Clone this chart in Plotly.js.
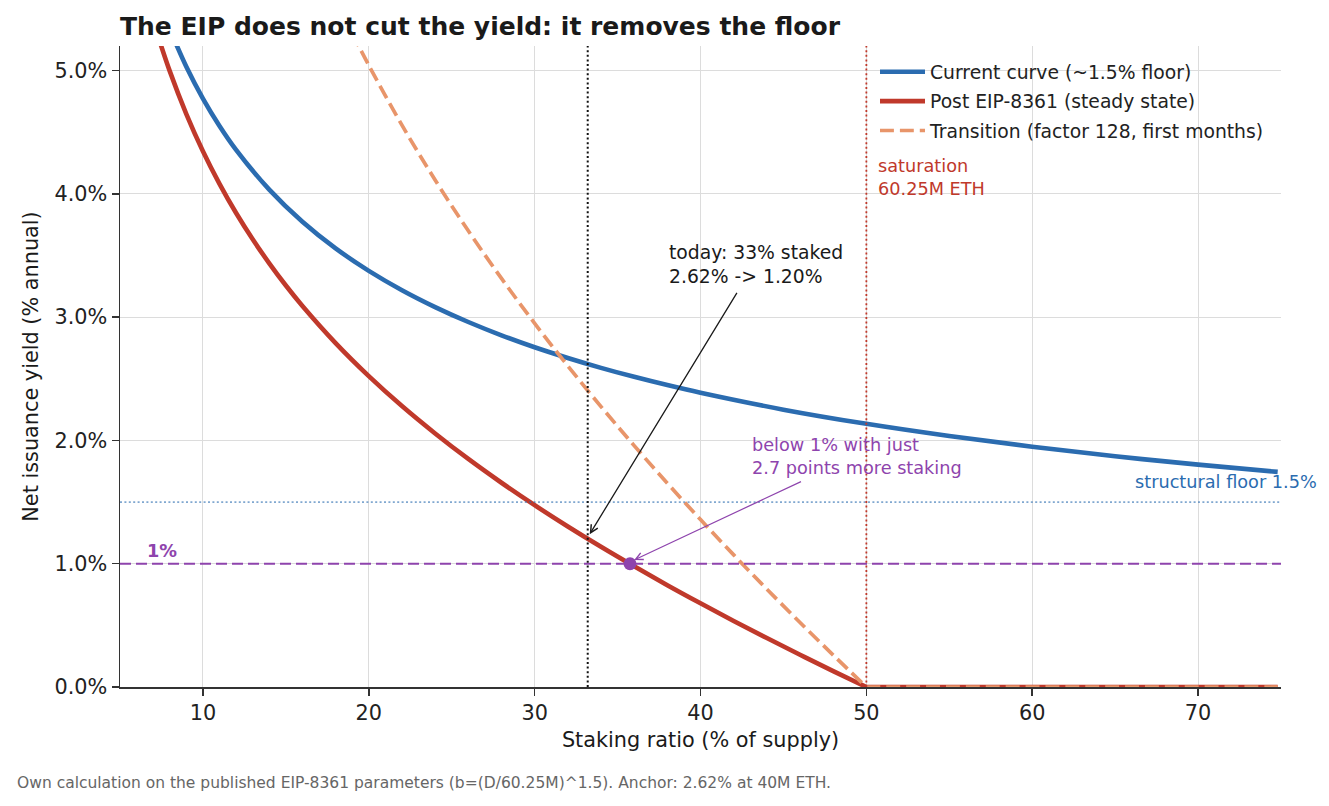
<!DOCTYPE html>
<html>
<head>
<meta charset="utf-8">
<script src="https://cdn.plot.ly/plotly-3.0.1.min.js"></script>
<style>
  html, body { margin: 0; padding: 0; background: #ffffff; }
  #chart { width: 1329px; height: 806px; }
</style>
</head>
<body>
<div id="chart"></div>
<script>
// ---- data ----
const xCurrent = [8, 9, 10, 11, 12, 14, 16, 18, 20, 22, 24, 26, 28, 30, 32, 34, 36, 38, 40, 45, 50, 55, 60, 65, 70, 74.8];
const yCurrent = [5.337, 5.032, 4.774, 4.552, 4.358, 4.035, 3.774, 3.558, 3.376, 3.219, 3.082, 2.961, 2.853, 2.756, 2.669, 2.589, 2.516, 2.449, 2.387, 2.250, 2.135, 2.036, 1.949, 1.872, 1.804, 1.745];

// post EIP-8361: curved part up to saturation, then flat at zero
const xPost = [7.3, 8, 9, 10, 11, 12, 13, 14, 15, 16, 18, 20, 22, 24, 26, 28, 30, 32, 34, 36, 38, 40, 42, 44, 46, 48, 50];
const yPost = [5.276, 4.996, 4.648, 4.347, 4.082, 3.845, 3.632, 3.437, 3.257, 3.091, 2.790, 2.522, 2.279, 2.057, 1.850, 1.657, 1.475, 1.302, 1.137, 0.979, 0.826, 0.679, 0.536, 0.397, 0.262, 0.129, 0];

const xTransition = [19, 20, 22, 24, 26, 28, 30, 32, 34, 36, 38, 40, 42, 44, 46, 48, 50];
const yTransition = [5.304, 5.043, 4.558, 4.113, 3.701, 3.315, 2.950, 2.605, 2.275, 1.958, 1.653, 1.358, 1.072, 0.794, 0.523, 0.259, 0];

// beyond saturation both new curves sit at zero
const xBeyond = [50, 74.8];
const yBeyond = [0, 0];

const seriesNames = ['Current curve (~1.5% floor)', 'Post EIP-8361 (steady state)', 'Transition (factor 128, first months)'];

const todayX = 33.2;          // today's staking ratio
const todayYield = [2.62, 1.20];
const saturationX = 50;       // 60.25M ETH
const floorY = 1.5;
const onePctY = 1.0;
const crossX = 35.75;         // where post-EIP curve crosses 1%

const xTicks = [10, 20, 30, 40, 50, 60, 70];
const yTicks = [0, 1, 2, 3, 4, 5];
const yTickLabels = ['0.0%', '1.0%', '2.0%', '3.0%', '4.0%', '5.0%'];

// ---- styling ----
const FONT = 'DejaVu Sans';
const BLUE = '#2b6cb0';
const RED = '#c0392b';
const ORANGE = '#e8956a';
const PURPLE = '#8e44ad';
const INK = '#1a1a1a';

const traces = [
  { x: xCurrent, y: yCurrent, type: 'scatter', mode: 'lines', name: seriesNames[0],
    line: { color: BLUE, width: 4.6, shape: 'spline', smoothing: 1 }, legendgroup: 'a' },
  { x: xPost, y: yPost, type: 'scatter', mode: 'lines', name: seriesNames[1],
    line: { color: RED, width: 4.6, shape: 'spline', smoothing: 1 }, legendgroup: 'b' },
  { x: xBeyond, y: yBeyond, type: 'scatter', mode: 'lines', showlegend: false, legendgroup: 'b',
    line: { color: RED, width: 4.6 } },
  { x: xTransition, y: yTransition, type: 'scatter', mode: 'lines', name: seriesNames[2],
    line: { color: ORANGE, width: 3.7, dash: '13.9px,6px', shape: 'spline', smoothing: 1 }, legendgroup: 'c' },
  { x: xBeyond, y: yBeyond, type: 'scatter', mode: 'lines', showlegend: false, legendgroup: 'c',
    line: { color: ORANGE, width: 3.7, dash: '13.9px,6px' } },
  { x: [crossX], y: [onePctY], type: 'scatter', mode: 'markers', showlegend: false,
    marker: { color: PURPLE, size: 13 } }
];

const axisCommon = {
  showgrid: true, gridcolor: '#dcdcdc', gridwidth: 1,
  showline: true, linecolor: '#333333', linewidth: 1.5,
  ticks: 'outside', ticklen: 7, tickwidth: 1.5, tickcolor: '#333333',
  tickfont: { family: FONT, size: 20.8, color: '#222222' },
  zeroline: false, automargin: false
};

const layout = {
  width: 1329, height: 806,
  margin: { l: 120, r: 48, t: 46, b: 119 },
  paper_bgcolor: '#ffffff', plot_bgcolor: '#ffffff',
  font: { family: FONT, color: INK },
  title: {
    text: '<b>The EIP does not cut the yield: it removes the floor</b>',
    font: { family: FONT, size: 25, color: INK },
    x: 120 / 1329, xref: 'container', xanchor: 'left',
    y: 0.9675, yref: 'container', yanchor: 'middle'
  },
  xaxis: Object.assign({}, axisCommon, {
    range: [5, 75], tickmode: 'array', tickvals: xTicks, ticktext: xTicks.map(String),
    title: { text: 'Staking ratio (% of supply)', font: { family: FONT, size: 20.8, color: INK }, standoff: 8 }
  }),
  yaxis: Object.assign({}, axisCommon, {
    range: [0, 5.2], tickmode: 'array', tickvals: yTicks, ticktext: yTickLabels,
    title: { text: 'Net issuance yield (% annual)', font: { family: FONT, size: 20.8, color: INK }, standoff: 10 }
  }),
  showlegend: true,
  legend: {
    x: (875 - 120) / 1161, xanchor: 'left', y: 0.989, yanchor: 'top',
    bgcolor: 'rgba(0,0,0,0)', borderwidth: 0,
    font: { family: FONT, size: 18.75, color: '#222222' },
    tracegroupgap: 2, traceorder: 'grouped', itemwidth: 45
  },
  shapes: [
    { type: 'line', xref: 'paper', x0: 0, x1: 1, yref: 'y', y0: floorY, y1: floorY,
      line: { color: 'rgba(43,108,176,0.6)', width: 1.6, dash: '2px,2.4px' }, layer: 'above' },
    { type: 'line', xref: 'paper', x0: 0, x1: 1, yref: 'y', y0: onePctY, y1: onePctY,
      line: { color: PURPLE, width: 2.2, dash: '11px,5px' }, layer: 'above' },
    { type: 'line', xref: 'x', x0: todayX, x1: todayX, yref: 'paper', y0: 0, y1: 1,
      line: { color: '#111111', width: 2, dash: '2px,2.6px' }, layer: 'above' },
    { type: 'line', xref: 'x', x0: saturationX, x1: saturationX, yref: 'paper', y0: 0, y1: 1,
      line: { color: RED, width: 1.8, dash: '2px,2.6px' }, layer: 'above' }
  ],
  annotations: [
    { x: 38.0, y: 3.43, xref: 'x', yref: 'y', xanchor: 'left', yanchor: 'middle', align: 'left',
      text: 'today: 33% staked<br>' + todayYield[0].toFixed(2) + '% -> ' + todayYield[1].toFixed(2) + '%',
      showarrow: false, font: { family: FONT, size: 18.75, color: INK } },
    { x: 33.32, y: 1.24, xref: 'x', yref: 'y', ax: 42.25, ay: 3.21, axref: 'x', ayref: 'y',
      text: '', showarrow: true, arrowhead: 5, arrowsize: 1.15, arrowwidth: 1.3, arrowcolor: INK, standoff: 0 },
    { x: 43.0, y: 1.87, xref: 'x', yref: 'y', xanchor: 'left', yanchor: 'middle', align: 'left',
      text: 'below 1% with just<br>2.7 points more staking',
      showarrow: false, font: { family: FONT, size: 17.7, color: PURPLE } },
    { x: 36.0, y: 1.03, xref: 'x', yref: 'y', ax: 46.15, ay: 1.672, axref: 'x', ayref: 'y',
      text: '', showarrow: true, arrowhead: 5, arrowsize: 1.2, arrowwidth: 1.2, arrowcolor: PURPLE, standoff: 0 },
    { x: 6.49, y: 1.1, xref: 'x', yref: 'y', xanchor: 'left', yanchor: 'middle',
      text: '<b>1%</b>', showarrow: false, font: { family: FONT, size: 17.7, color: PURPLE } },
    { x: 66.06, y: 1.664, xref: 'x', yref: 'y', xanchor: 'left', yanchor: 'middle',
      text: 'structural floor 1.5%', showarrow: false, font: { family: FONT, size: 17.7, color: BLUE } },
    { x: 50.59, y: 4.13, xref: 'x', yref: 'y', xanchor: 'left', yanchor: 'middle', align: 'left',
      text: 'saturation<br>60.25M ETH', showarrow: false, font: { family: FONT, size: 17.7, color: RED } },
    { x: (15 - 120) / 1161, y: (687 - 783) / 641, xref: 'paper', yref: 'paper', xanchor: 'left', yanchor: 'middle',
      text: 'Own calculation on the published EIP-8361 parameters (b=(D/60.25M)^1.5). Anchor: 2.62% at 40M ETH.',
      showarrow: false, font: { family: FONT, size: 15.5, color: '#666666' } }
  ]
};

Plotly.newPlot('chart', traces, layout, { staticPlot: true, displayModeBar: false });
</script>
</body>
</html>
